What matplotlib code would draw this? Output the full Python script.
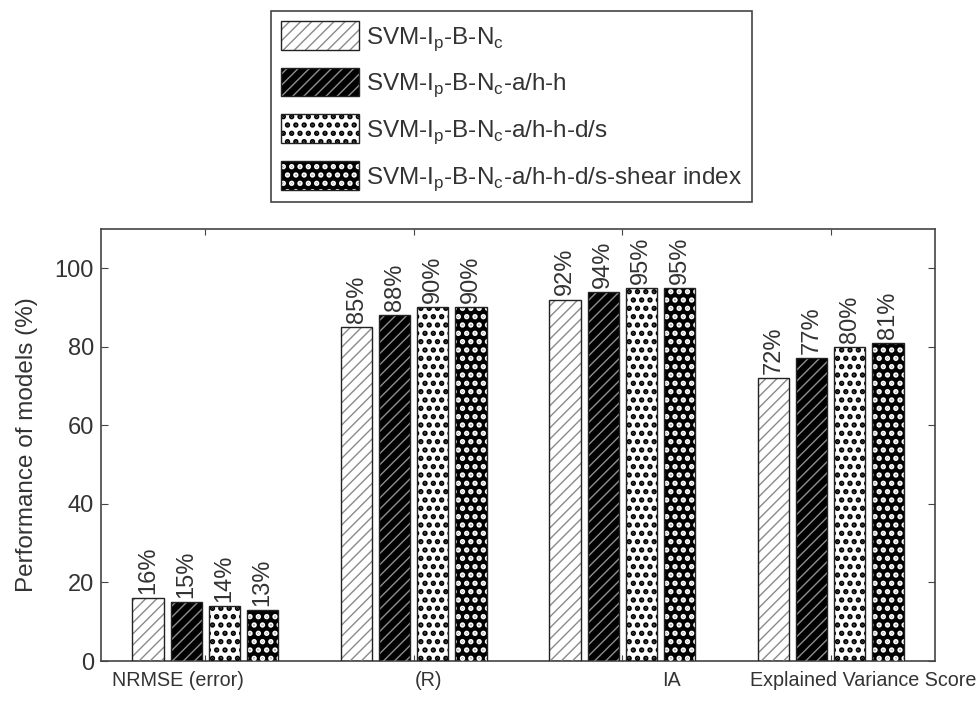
import matplotlib
matplotlib.use("Agg")
import matplotlib.pyplot as plt
import numpy as np
from matplotlib.patches import Patch, Rectangle
from matplotlib.legend_handler import HandlerPatch

plt.rcParams['font.family'] = ['Liberation Sans', 'DejaVu Sans']
plt.rcParams['mathtext.fontset'] = 'custom'
plt.rcParams['mathtext.rm'] = 'Liberation Sans'
plt.rcParams['hatch.linewidth'] = 1.0

categories = ["NRMSE (error)", "(R)", "IA", "Explained Variance Score"]
series_names = [r"SVM-I$_\mathregular{p}$-B-N$_\mathregular{c}$",
                r"SVM-I$_\mathregular{p}$-B-N$_\mathregular{c}$-a/h-h",
                r"SVM-I$_\mathregular{p}$-B-N$_\mathregular{c}$-a/h-h-d/s",
                r"SVM-I$_\mathregular{p}$-B-N$_\mathregular{c}$-a/h-h-d/s-shear index"]
s1 = [16, 85, 92, 72]
s2 = [15, 88, 94, 77]
s3 = [14, 90, 95, 80]
s4 = [13, 90, 95, 81]
series = [s1, s2, s3, s4]
label_offsets = [-0.13, 0.07, 0.235, 0.154]

faces = ['white', 'black', 'white', 'black']
hatch_cols = ['#8a8a8a', '#8f8f8f', 'black', 'white']
hatches = ['///', '///', '..', '..']
hatch_lw = [1.0, 1.0, 2.6, 2.6]


def set_hlw(patch, lw):
    if hasattr(patch, 'set_hatch_linewidth'):
        patch.set_hatch_linewidth(lw)
    else:
        patch._hatch_linewidth = lw


fig = plt.figure(figsize=(9.77, 7.02), dpi=100)
ax = fig.add_axes([0.1034, 0.0584, 0.957 - 0.1034, 0.674 - 0.0584])

x = np.arange(1, len(categories) + 1)
pitch = 0.183
width = 0.15
txtc = '#333333'
handles = []
for i, vals in enumerate(series):
    pos = x + (i - 1.5) * pitch
    ax.bar(pos, vals, width, color=faces[i], edgecolor='none', linewidth=0, zorder=2)
    hb = ax.bar(pos, vals, width, facecolor='none', edgecolor=hatch_cols[i], hatch=hatches[i],
                linewidth=0, zorder=3)
    for p in hb.patches:
        set_hlw(p, hatch_lw[i])
    ax.bar(pos, vals, width, fill=False, edgecolor='#222222', linewidth=1.0, zorder=4)
    for p, v in zip(pos, vals):
        ax.annotate(f"{v}%", (p, v), xytext=(0, 3), textcoords='offset points',
                    rotation=90, ha='center', va='bottom', fontsize=17, color=txtc)
    handles.append(Patch(facecolor=faces[i], edgecolor=hatch_cols[i], hatch=hatches[i],
                         linewidth=0))

ax.set_xlim(0.5, 4.5)
ax.set_ylim(0, 110)
ax.set_yticks([0, 20, 40, 60, 80, 100])
ax.set_xticks(x)
ax.set_xticklabels([])
ax.tick_params(direction='in', top=True, right=True, length=5, width=0.8,
               colors='#444444', labelcolor=txtc, labelsize=17, pad=5)
ax.tick_params(axis='x', length=4)
for s in ax.spines.values():
    s.set_color('#444444')
    s.set_linewidth(1.2)
for xi, off, c in zip(x, label_offsets, categories):
    ax.text(xi + off, -2.5, c, ha='center', va='top', fontsize=14.2, color=txtc)
ax.set_ylabel("Performance of models (%)", fontsize=17.5, color=txtc, labelpad=12)


class OutlinedHandler(HandlerPatch):
    def create_artists(self, legend, orig_handle, xdescent, ydescent, width, height, fontsize, trans):
        bg = Rectangle((-xdescent, -ydescent), width, height,
                       facecolor=orig_handle.get_facecolor(), edgecolor='none', transform=trans)
        h = Rectangle((-xdescent, -ydescent), width, height, facecolor='none',
                      edgecolor=orig_handle.get_edgecolor(), hatch=orig_handle.get_hatch(),
                      linewidth=0, transform=trans)
        lw = 2.6 if orig_handle.get_hatch() == '..' else 1.0
        set_hlw(h, lw)
        ol = Rectangle((-xdescent, -ydescent), width, height, fill=False,
                       edgecolor='#222222', linewidth=1.0, transform=trans)
        return [bg, h, ol]


leg = fig.legend(handles, series_names, loc='upper left', bbox_to_anchor=(0.2775, 0.984),
                 fontsize=17.5, handlelength=3.2, handleheight=1.44, handletextpad=0.3,
                 labelspacing=0.62, borderpad=0.4, borderaxespad=0, fancybox=False,
                 framealpha=1, edgecolor='#444444', labelcolor=txtc,
                 handler_map={Patch: OutlinedHandler()})
leg.get_frame().set_linewidth(1.2)

fig.savefig("out.png", dpi=100)
